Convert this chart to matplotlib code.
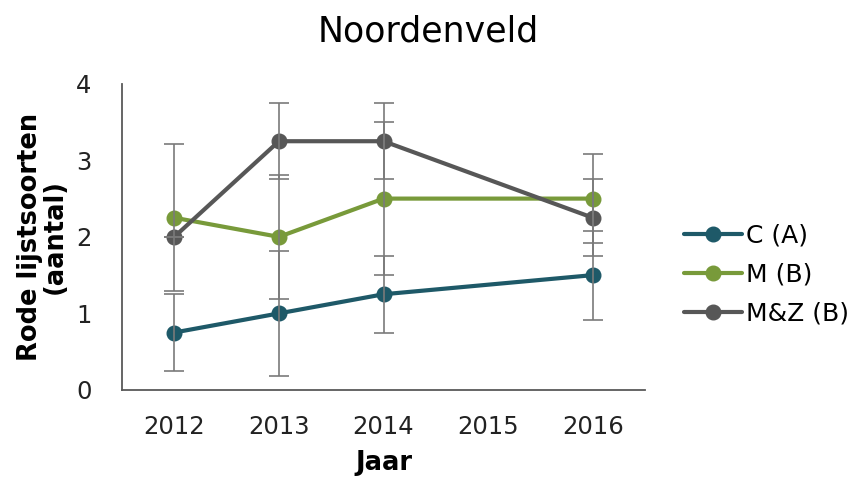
import numpy as np
import matplotlib
matplotlib.use("Agg")
import matplotlib.pyplot as plt

years = ["2012", "2013", "2014", "2015", "2016"]
series_names = ["C (A)", "M (B)", "M&Z (B)"]
c_vals = [0.75, 1.0, 1.25, np.nan, 1.5]
c_err = [0.5, 0.82, 0.5, np.nan, 0.58]
m_vals = [2.25, 2.0, 2.5, np.nan, 2.5]
m_err = [0.96, 0.81, 1.0, np.nan, 0.58]
mz_vals = [2.0, 3.25, 3.25, np.nan, 2.25]
mz_err = [0.0, 0.5, 0.5, np.nan, 0.5]
colors = ["#1E5968", "#789A3A", "#575757"]

fig = plt.figure(figsize=(8.59, 4.79), dpi=100)
ax = fig.add_axes([0.142, 0.186, 0.609, 0.639])

x = np.arange(len(years))
for vals, errs, col, name in zip([c_vals, m_vals, mz_vals],
                                 [c_err, m_err, mz_err], colors, series_names):
    v = np.array(vals, dtype=float)
    e = np.array(errs, dtype=float)
    ok = ~np.isnan(v)
    ax.plot(x[ok], v[ok], color=col, lw=3, marker="o", markersize=10.5,
            label=name, zorder=3, solid_capstyle="round")
    ax.errorbar(x[ok], v[ok], yerr=e[ok], fmt="none", ecolor="#7a7a7a",
                elinewidth=1.2, capsize=7, capthick=1.2, zorder=4)

ax.set_xlim(-0.5, 4.5)
ax.set_ylim(0, 4)
ax.set_xticks(x)
ax.set_xticklabels(years)
ax.set_yticks([0, 1, 2, 3, 4])
ax.tick_params(axis="both", length=0, labelsize=17.5, colors="#222222")
ax.tick_params(axis="x", pad=18)
ax.tick_params(axis="y", pad=22)
for s in ["top", "right"]:
    ax.spines[s].set_visible(False)
for s in ["left", "bottom"]:
    ax.spines[s].set_color("#595959")
    ax.spines[s].set_linewidth(1.3)

ax.set_xlabel("Jaar", fontsize=18.5, fontweight="bold", labelpad=8)
ax.set_ylabel("Rode lijstsoorten\n(aantal)", fontsize=18.5, fontweight="bold",
              labelpad=6, linespacing=0.92)
fig.text(0.498, 0.935, "Noordenveld", ha="center", va="center", fontsize=25)

ax.legend(loc="center left", bbox_to_anchor=(1.075, 0.376), frameon=False,
          fontsize=18, handlelength=2.3, handletextpad=0.15, labelspacing=0.6,
          borderaxespad=0, borderpad=0)

fig.savefig("out.png", dpi=100)
